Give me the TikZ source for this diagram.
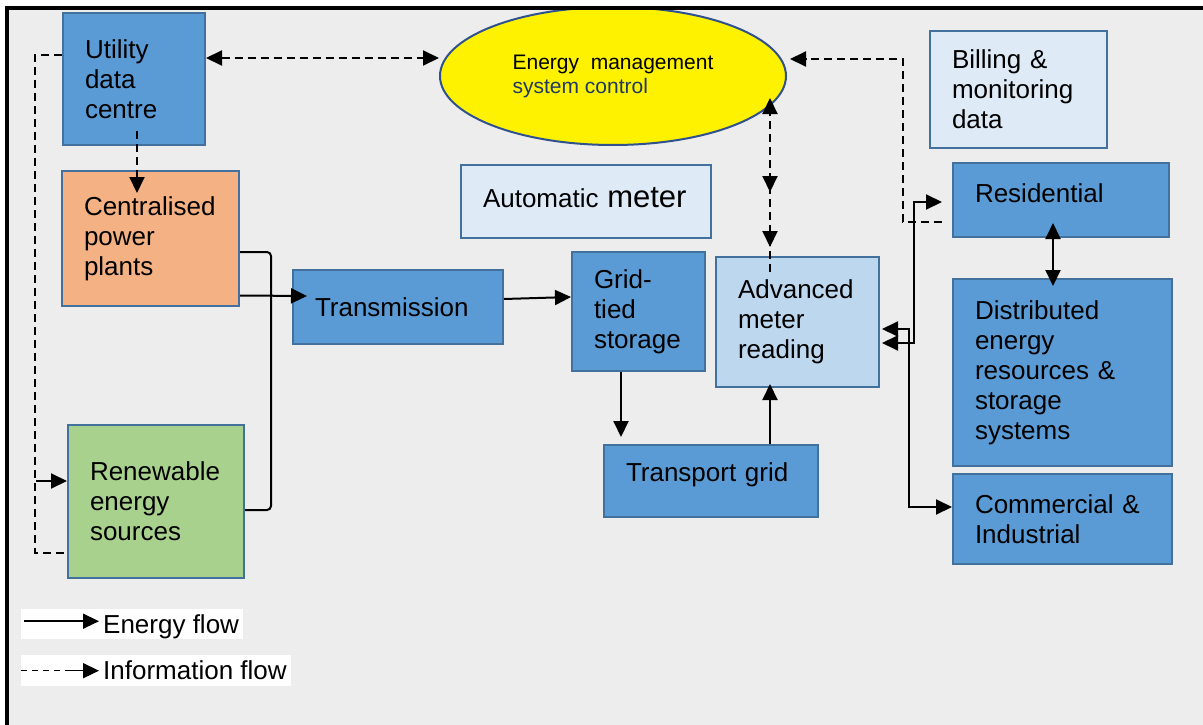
\documentclass[tikz,border=0pt]{standalone}
\usepackage{fontspec}
\setmainfont{Liberation Sans}
\usetikzlibrary{arrows.meta,shapes.geometric}
\definecolor{bluebox}{RGB}{91,155,213}
\definecolor{boxline}{RGB}{65,113,156}
\definecolor{orangebox}{RGB}{244,177,131}
\definecolor{greenbox}{RGB}{169,209,142}
\definecolor{palebox}{RGB}{222,235,247}
\definecolor{lightbox}{RGB}{189,215,238}
\definecolor{panel}{RGB}{237,237,237}
\definecolor{emsline}{RGB}{47,82,143}
\definecolor{navytext}{RGB}{31,56,100}
\newcommand{\liftby}[2]{\raisebox{#1}[\height][\depth]{#2}}
\begin{document}
\begin{tikzpicture}[x=1pt,y=-1pt,
  head/.tip={Triangle[length=16pt,width=15pt]},
  energy/.style={line width=2pt},
  info/.style={line width=2pt, dash pattern=on 8pt off 5pt},
  box/.style={rectangle, draw=boxline, line width=2pt, inner xsep=22pt, inner ysep=0pt,
    align=left, font=\fontsize{26}{30}\selectfont,
    execute at begin node={\hyphenpenalty=10000\exhyphenpenalty=10000}},
  legendtext/.style={anchor=west, inner sep=0pt, font=\fontsize{26}{30}\selectfont}
]
\useasboundingbox (0,0) rectangle (1203,725);
\fill[white] (0,0) rectangle (1203,725);
\fill[panel] (7,8) rectangle (1203,725);

% ---- blocks ----
\node[box, fill=bluebox, minimum width=142pt, minimum height=132pt, text width=98pt]
  (util) at (134,79) {Utility\\data\\centre};
\node[box, fill=orangebox, minimum width=177pt, minimum height=135pt, text width=133pt]
  (cpp) at (150.5,238.5) {Centralised\\power\\plants};
\node[box, fill=greenbox, minimum width=176pt, minimum height=153pt, text width=132pt]
  (ren) at (156,501.5) {Renewable\\energy\\sources};
\node[box, fill=bluebox, minimum width=210pt, minimum height=74pt, text width=166pt]
  (trans) at (398,307) {Transmission};
\node[box, fill=palebox, minimum width=250pt, minimum height=73pt, text width=206pt]
  (auto) at (586,201.5) {\liftby{4pt}{Automatic {\fontsize{31}{30}\selectfont meter}}};
\node[box, fill=bluebox, minimum width=133pt, minimum height=119pt, text width=89pt]
  (grid) at (638.5,311.5) {Grid-\\tied\\storage};
\node[box, fill=bluebox, minimum width=214pt, minimum height=72pt, text width=170pt]
  (tgrid) at (711,481) {\liftby{6pt}{Transport grid}};
\node[box, fill=lightbox, minimum width=163pt, minimum height=130pt, text width=119pt]
  (amr) at (797.5,322) {Advanced\\meter\\reading};
\node[box, fill=palebox, minimum width=177pt, minimum height=117pt, text width=133pt]
  (bill) at (1018.5,89.5) {Billing \&\\monitoring\\data};
\node[box, fill=bluebox, minimum width=216pt, minimum height=74pt, text width=172pt]
  (res) at (1061,200) {\liftby{7pt}{Residential}};
\node[box, fill=bluebox, minimum width=219pt, minimum height=187pt, text width=175pt]
  (der) at (1062.5,372.5) {Distributed\\energy\\resources \&\\storage\\systems};
\node[box, fill=bluebox, minimum width=219pt, minimum height=90pt, text width=175pt]
  (ci) at (1062.5,519) {Commercial \&\\Industrial};
\node[ellipse, draw=emsline, line width=2pt, fill=yellow, minimum width=346pt,
  minimum height=138pt, inner sep=0pt, align=left, font=\fontsize{21}{24}\selectfont]
  (ems) at (613,76) {Energy\ \ management\\\textcolor{navytext}{system control}};

% ---- information flow ----
\draw[info, {head}-{head}] ([yshift=21pt]util.east) -- ([yshift=21pt]util.east -| ems.west);
\draw[info, -{head}] ([xshift=3pt,yshift=15pt]util.south) -- ([xshift=-13.5pt,yshift=-23pt]cpp.north);
\draw[info] ([yshift=24pt]util.west) -- ++(-27,0) |- ([yshift=-51.5pt]ren.west);
\draw[energy, -{head}] ([xshift=-31pt,yshift=20.5pt]ren.west) -- ([yshift=20.5pt]ren.west);
\draw[info, -{head}] ([xshift=-27.5pt,yshift=-16pt]amr.north)
  -- ([xshift=-27.5pt,yshift=48pt]amr.north |- ems.south);
\draw[energy, -{head}] ([xshift=-27.5pt,yshift=82pt]amr.north) -- ([xshift=-27.5pt,yshift=64pt]amr.north);
\draw[energy, -{head}] ([xshift=-27.5pt,yshift=26pt]amr.north) -- ([xshift=-27.5pt,yshift=9pt]amr.north);
\draw[info, -{head}] ([xshift=-10pt,yshift=-22pt]res.west) -- ++(-39,0)
  |- ([xshift=3pt,yshift=17pt]ems.east);

% ---- energy flow ----
\draw[energy, -{head}] ([yshift=-57pt]cpp.east) -- ([xshift=15pt,yshift=11pt]trans.west);
\draw[energy, rounded corners=4pt] ([yshift=-13.5pt]cpp.east) -- ++(31,0) |- ([yshift=-8.5pt]ren.east);
\draw[energy, -{head}] ([yshift=8pt]trans.east) -- ([yshift=14.5pt]grid.west);
\draw[energy, -{head}] ([xshift=-17.5pt]grid.south) -- ([xshift=-17.5pt,yshift=7pt]grid.south |- tgrid.north);
\draw[energy, -{head}] ([xshift=59pt]tgrid.north) -- ([xshift=59pt,yshift=4pt]tgrid.north |- amr.south);
\draw[energy, {head}-{head}] ([xshift=2pt,yshift=-21pt]amr.east) -- ++(32,0)
  |- ([xshift=-10pt,yshift=-2pt]res.west);
\draw[energy, {head}-{head}] ([xshift=2pt,yshift=-7pt]amr.east) -- ++(27,0)
  |- ([yshift=12pt]ci.west);
\draw[energy, {head}-{head}] ([xshift=-8pt,yshift=15pt]res.south) -- ([xshift=-9.5pt,yshift=-8pt]der.north);

% ---- legend ----
\node[fill=white, minimum width=222pt, minimum height=30pt, inner sep=0pt, anchor=north west]
  (legE) at (21,609) {};
\node[legendtext] (legEt) at (103,627) {Energy flow};
\draw[line width=1.5pt, -{head}] ([xshift=3pt,yshift=3pt]legE.west)
  -- ([xshift=-4pt,yshift=3pt]legE.west -| legEt.west);
\node[fill=white, minimum width=270pt, minimum height=31pt, inner sep=0pt, anchor=north west]
  (legI) at (21,655) {};
\node[legendtext] (legIt) at (103,670) {Information flow};
\draw[line width=1.5pt, dash pattern=on 6pt off 5pt] (legI.west) -- ([xshift=47pt]legI.west);
\draw[line width=1.5pt, -{head}] ([xshift=45pt]legI.west) -- ([xshift=-4pt]legI.west -| legIt.west);

% ---- frame ----
\draw[line width=3.5pt] (7,725) -- (7,8) -- (1203,8);
\end{tikzpicture}
\end{document}
